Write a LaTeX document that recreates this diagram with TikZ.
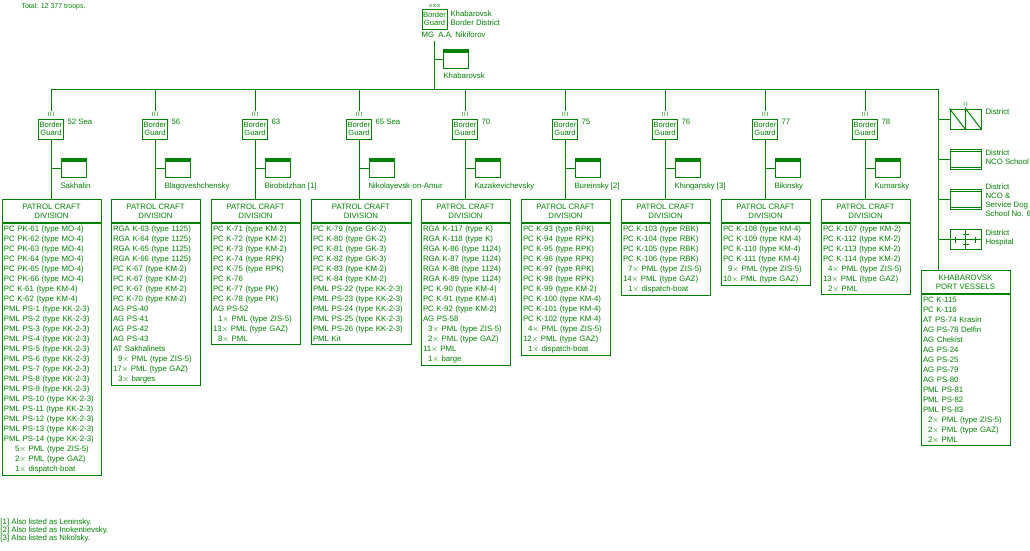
\documentclass[tikz,border=0pt]{standalone}
\usepackage{fontspec}
\setmainfont{Liberation Sans}
\usepackage{tikz}
\usetikzlibrary{positioning}
\definecolor{pgreen}{HTML}{008000}

\tikzset{
  base/.style={draw=pgreen, line width=1pt, text=pgreen, inner sep=0pt},
  bg/.style={base, minimum width=25pt, minimum height=20pt, align=center, font=\fontsize{7.6}{8.5}\selectfont},
  hq/.style={base, minimum width=25pt, minimum height=19pt,
    path picture={\fill[pgreen] (path picture bounding box.north west) rectangle ([yshift=-3pt]path picture bounding box.north east);}},
  du/.style={base, minimum width=31pt, minimum height=20pt},
  txt/.style={text=pgreen, inner sep=0pt, font=\fontsize{7.8}{9}\selectfont, align=left},
  divhead/.style={base, anchor=north, minimum height=23pt, align=center, font=\fontsize{7.8}{8.8}\selectfont},
  divbody/.style={base, anchor=north, inner xsep=2pt, inner ysep=2.5pt, align=left, font=\fontsize{7.8}{10}\selectfont},
}
\newcommand{\pcd}[5]{%
  \node[divhead, minimum width=#3pt] (d#1) at (#2,199) {PATROL CRAFT\\DIVISION};
  \node[divbody, text width=#4pt] (l#1) at (d#1.south) {#5};}
\newcommand{\ind}{\hspace*{5pt}}

\begin{document}
\begin{tikzpicture}[x=1pt, y=-1pt, line width=1pt, draw=pgreen, color=pgreen]
  \useasboundingbox (0,0) rectangle (1030,550);

  % district headquarters
  \node[txt, anchor=west, font=\fontsize{7}{8}\selectfont] (total) at (21,7) {Total: 12 377 troops.};
  \node[bg] (top) at (434.5,19) {Border\\Guard};
  \node[txt, above=0.5pt of top] (topx) {\fontsize{6}{6}\selectfont x\,x\,x};
  \node[txt, anchor=west] (toplbl) at (450,18) {Khabarovsk\\Border District};
  \node[txt, anchor=west] (cmd) at (421,35) {MG\ \ A.A. Nikiforov};
  \coordinate (bus) at (434.5,89);
  \draw (cmd.south -| top.south) ++(0,3) -- (bus);
  \node[hq] (hqtop) at (455.5,59) {};
  \node[txt, anchor=west] (hqtoplbl) at (443,76) {Khabarovsk};
  \draw (hqtop.west) -- (hqtop.west -| bus);

  % main branch line
  \coordinate (rt) at (938,89);
  \draw (51,89) -- (rt);

  % patrol craft divisions
  \pcd{52}{51.5}{99}{95}{PC PK-61 (type MO-4)\\PC PK-62 (type MO-4)\\PC PK-63 (type MO-4)\\PC PK-64 (type MO-4)\\PC PK-65 (type MO-4)\\PC PK-66 (type MO-4)\\PC K-61 (type KM-4)\\PC K-62 (type KM-4)\\PML PS-1 (type KK-2-3)\\PML PS-2 (type KK-2-3)\\PML PS-3 (type KK-2-3)\\PML PS-4 (type KK-2-3)\\PML PS-5 (type KK-2-3)\\PML PS-6 (type KK-2-3)\\PML PS-7 (type KK-2-3)\\PML PS-8 (type KK-2-3)\\PML PS-9 (type KK-2-3)\\PML PS-10 (type KK-2-3)\\PML PS-11 (type KK-2-3)\\PML PS-12 (type KK-2-3)\\PML PS-13 (type KK-2-3)\\PML PS-14 (type KK-2-3)\\\hspace*{11pt}5$\times$ PML (type ZIS-5)\\\hspace*{11pt}2$\times$ PML (type GAZ)\\\hspace*{11pt}1$\times$ dispatch-boat}
  \pcd{56}{155.5}{89}{85}{RGA K-63 (type 1125)\\RGA K-64 (type 1125)\\RGA K-65 (type 1125)\\RGA K-66 (type 1125)\\PC K-67 (type KM-2)\\PC K-67 (type KM-2)\\PC K-67 (type KM-2)\\PC K-70 (type KM-2)\\AG PS-40\\AG PS-41\\AG PS-42\\AG PS-43\\AT Sakhalinets\\\ind 9$\times$ PML (type ZIS-5)\\17$\times$ PML (type GAZ)\\\ind 3$\times$ barges}
  \pcd{63}{255.5}{89}{85}{PC K-71 (type KM-2)\\PC K-72 (type KM-2)\\PC K-73 (type KM-2)\\PC K-74 (type RPK)\\PC K-75 (type RPK)\\PC K-76\\PC K-77 (type PK)\\PC K-78 (type PK)\\AG PS-52\\\ind 1$\times$ PML (type ZIS-5)\\13$\times$ PML (type GAZ)\\\ind 8$\times$ PML}
  \pcd{65}{361}{100}{96}{PC K-79 (type GK-2)\\PC K-80 (type GK-2)\\PC K-81 (type GK-3)\\PC K-82 (type GK-3)\\PC K-83 (type KM-2)\\PC K-84 (type KM-2)\\PML PS-22 (type KK-2-3)\\PML PS-23 (type KK-2-3)\\PML PS-24 (type KK-2-3)\\PML PS-25 (type KK-2-3)\\PML PS-26 (type KK-2-3)\\PML Kit}
  \pcd{70}{465.5}{89}{85}{RGA K-117 (type K)\\RGA K-118 (type K)\\RGA K-86 (type 1124)\\RGA K-87 (type 1124)\\RGA K-88 (type 1124)\\RGA K-89 (type 1124)\\PC K-90 (type KM-4)\\PC K-91 (type KM-4)\\PC K-92 (type KM-2)\\AG PS-58\\\ind 3$\times$ PML (type ZIS-5)\\\ind 2$\times$ PML (type GAZ)\\11$\times$ PML\\\ind 1$\times$ barge}
  \pcd{75}{565.5}{89}{85}{PC K-93 (type RPK)\\PC K-94 (type RPK)\\PC K-95 (type RPK)\\PC K-96 (type RPK)\\PC K-97 (type RPK)\\PC K-98 (type RPK)\\PC K-99 (type KM-2)\\PC K-100 (type KM-4)\\PC K-101 (type KM-4)\\PC K-102 (type KM-4)\\\ind 4$\times$ PML (type ZIS-5)\\12$\times$ PML (type GAZ)\\\ind 1$\times$ dispatch-boat}
  \pcd{76}{665.5}{89}{85}{PC K-103 (type RBK)\\PC K-104 (type RBK)\\PC K-105 (type RBK)\\PC K-106 (type RBK)\\\ind 7$\times$ PML (type ZIS-5)\\14$\times$ PML (type GAZ)\\\ind 1$\times$ dispatch-boat}
  \pcd{77}{765.5}{89}{85}{PC K-108 (type KM-4)\\PC K-109 (type KM-4)\\PC K-110 (type KM-4)\\PC K-111 (type KM-4)\\\ind 9$\times$ PML (type ZIS-5)\\10$\times$ PML (type GAZ)}
  \pcd{78}{865.5}{89}{85}{PC K-107 (type KM-2)\\PC K-112 (type KM-2)\\PC K-113 (type KM-2)\\PC K-114 (type KM-2)\\\ind 4$\times$ PML (type ZIS-5)\\13$\times$ PML (type GAZ)\\\ind 2$\times$ PML}

  % border guard detachments
  \foreach \n/\x/\num/\loc in {52/51/52 Sea/Sakhalin, 56/155/56/Blagoveshchensky,
      63/255/63/{Birobidzhan [1]}, 65/359/65 Sea/Nikolayevsk-on-Amur, 70/465/70/Kazakevichevsky,
      75/565/75/{Bureinsky [2]}, 76/665/76/{Khingansky [3]}, 77/765/77/Bikinsky, 78/865/78/Kumarsky} {
    \node[bg] (b\n) at (\x,129) {Border\\Guard};
    \node[txt, above=1.5pt of b\n] (r\n) {\fontsize{6}{6}\selectfont I\,I\,I};
    \node[txt, anchor=north west] (n\n) at ([xshift=3pt]b\n.north east) {\num};
    \node[hq] (h\n) at (\x+22.5,168) {};
    \node[txt, anchor=west] (p\n) at (\x+9,186) {\loc};
    \draw (r\n.north) ++(0,-1) -- (r\n.north |- bus);
    \draw (b\n.south) -- (d\n.north -| b\n.south);
    \draw (h\n.west) -- (h\n.west -| b\n.south);
  }

  % district units
  \node[du] (dist) at (965.5,119) {};
  \draw (dist.north west) -- (dist.south) -- (dist.north) -- (dist.south east);
  \node[txt, above=1.5pt of dist] (distr) {\fontsize{6}{6}\selectfont I\,I};
  \node[txt, anchor=west] (distlbl) at (985,112) {District};
  \node[du] (nco) at (965.5,159) {};
  \draw ([yshift=-3pt]nco.north west) -- ([yshift=-3pt]nco.north east)
        ([yshift=2pt]nco.south west) -- ([yshift=2pt]nco.south east);
  \node[txt, anchor=north west] (ncolbl) at (985,149) {District\\NCO School};
  \node[du] (dog) at (965.5,199) {};
  \draw ([yshift=-3pt]dog.north west) -- ([yshift=-3pt]dog.north east)
        ([yshift=2pt]dog.south west) -- ([yshift=2pt]dog.south east);
  \node[txt, anchor=north west] (doglbl) at (985,183) {District\\NCO \&\\Service Dog\\School No. 6};
  \node[du] (hosp) at (965.5,239.5) {};
  \draw (hosp.west) -- (hosp.east) (hosp.north) -- (hosp.south)
        ([xshift=-10pt]hosp.center) ++(0,-3) -- ++(0,6)
        ([xshift=10pt]hosp.center) ++(0,-3) -- ++(0,6)
        ([yshift=5pt]hosp.center) ++(-3,0) -- ++(6,0)
        ([yshift=-5pt]hosp.center) ++(-3,0) -- ++(6,0);
  \node[txt, anchor=north west] (hosplbl) at (985,229) {District\\Hospital};
  \foreach \u in {dist, nco, dog, hosp}
    \draw (\u.west) -- (\u.west -| rt);

  % port vessels
  \node[divhead, minimum width=89pt] (port) at (965.5,270) {KHABAROVSK\\PORT VESSELS};
  \node[divbody, text width=85pt] (lport) at (port.south) {PC K-115\\PC K-116\\AT PS-74 Krasin\\AG PS-78 Delfin\\AG Chekist\\AG PS-24\\AG PS-25\\AG PS-79\\AG PS-80\\PML PS-81\\PML PS-82\\PML PS-83\\\ind 2$\times$ PML (type ZIS-5)\\\ind 2$\times$ PML (type GAZ)\\\ind 2$\times$ PML};
  \draw (rt) -- (rt |- port.north);

  % footnotes
  \node[txt, anchor=north west] (notes) at (0,518) {[1] Also listed as Leninsky.\\[-0.6pt]{}[2] Also listed as Inokentievsky.\\[-0.6pt]{}[3] Also listed as Nikolsky.};
\end{tikzpicture}
\end{document}
